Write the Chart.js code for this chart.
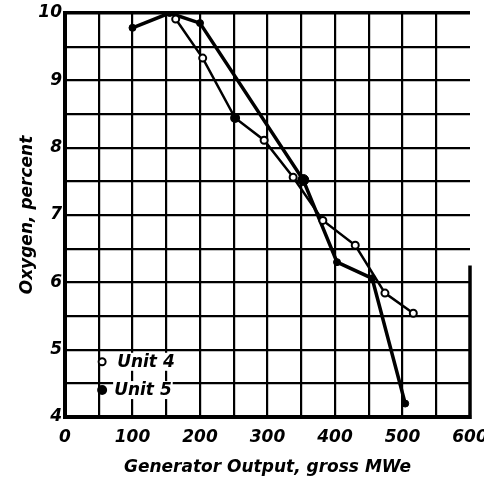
<!DOCTYPE html>
<html>
<head>
<meta charset="utf-8">
<script src="https://cdn.jsdelivr.net/npm/chart.js@4"></script>
<style>
html,body{margin:0;padding:0;background:#fff;}
canvas{display:block;}
</style>
</head>
<body>
<canvas id="c" width="484" height="484"></canvas>
<script>
// ---- data ----
const unit4X = [164, 204, 252, 295, 338, 382, 430, 474, 516];
const unit4Y = [9.91, 9.33, 8.44, 8.11, 7.56, 6.92, 6.55, 5.84, 5.54];
const unit5X = [100, 155, 200, 353, 403, 455, 504];
const unit5Y = [9.78, 10.0, 9.85, 7.52, 6.30, 6.06, 4.20];
const xTickLabels = [0, 100, 200, 300, 400, 500, 600];
const yTickLabels = [4, 5, 6, 7, 8, 9, 10];
const seriesNames = ['Unit 4', 'Unit 5'];
const xTitle = 'Generator Output, gross MWe';
const yTitle = 'Oxygen, percent';

const FONT = {family: 'DejaVu Sans', size: 17, weight: 'bold', style: 'italic'};

const toPts = (xs, ys) => xs.map((x, i) => ({x: x, y: ys[i]}));

const extras = {
  id: 'extras',
  afterDatasetsDraw(chart) {
    const ctx = chart.ctx;
    const xs = chart.scales.x, ys = chart.scales.y;
    // partial right border at x = 600
    ctx.save();
    ctx.strokeStyle = '#000';
    ctx.lineWidth = 3.5;
    ctx.beginPath();
    const rx = xs.getPixelForValue(600);
    ctx.moveTo(rx, ys.getPixelForValue(6.25));
    ctx.lineTo(rx, ys.getPixelForValue(4) + 2);
    ctx.stroke();
    // legend inside plot
    const lx = xs.getPixelForValue(55);
    const rows = [ys.getPixelForValue(4.82), ys.getPixelForValue(4.4)];
    ctx.font = 'italic bold 17px "DejaVu Sans"';
    ctx.textBaseline = 'middle';
    seriesNames.forEach((name, i) => {
      const y = rows[i];
      const tx = lx + (i === 0 ? 15 : 12);
      const w = ctx.measureText(name).width;
      ctx.fillStyle = '#fff';
      ctx.fillRect(tx - 1, y - 9, w + 2, 18);
      ctx.fillStyle = '#000';
      ctx.fillText(name, tx, y + 1);
      ctx.beginPath();
      if (i === 0) {
        ctx.arc(lx, y, 3.5, 0, Math.PI * 2);
        ctx.fillStyle = '#fff';
        ctx.fill();
        ctx.lineWidth = 2;
        ctx.stroke();
      } else {
        ctx.arc(lx, y, 5, 0, Math.PI * 2);
        ctx.fillStyle = '#000';
        ctx.fill();
      }
    });
    ctx.restore();
  }
};

new Chart(document.getElementById('c'), {
  type: 'scatter',
  data: {
    datasets: [
      {
        label: seriesNames[0],
        data: toPts(unit4X, unit4Y),
        showLine: true,
        borderColor: '#000',
        borderWidth: 2.5,
        pointRadius: unit4X.map((v, i) => i === 2 ? 4 : 3.5),
        pointBorderWidth: 2,
        pointBorderColor: '#000',
        pointBackgroundColor: unit4X.map((v, i) => i === 2 ? '#000' : '#fff'),
        tension: 0
      },
      {
        label: seriesNames[1],
        data: toPts(unit5X, unit5Y),
        showLine: true,
        borderColor: '#000',
        borderWidth: 3.5,
        pointRadius: unit5X.map((v, i) => i === 3 ? 5.5 : 3.5),
        pointBorderWidth: 1,
        pointBorderColor: '#000',
        pointBackgroundColor: '#000',
        tension: 0
      }
    ]
  },
  plugins: [extras],
  options: {
    responsive: false,
    animation: false,
    devicePixelRatio: 1,
    layout: {padding: {left: 0, right: 14, top: 13, bottom: 0}},
    plugins: {legend: {display: false}, tooltip: {enabled: false}},
    scales: {
      x: {
        type: 'linear', min: 0, max: 600,
        border: {display: true, color: '#000', width: 4},
        grid: {
          color: c => (c.tick && c.tick.value === 600) ? 'rgba(0,0,0,0)' : '#000',
          lineWidth: 2.2,
          drawTicks: false
        },
        ticks: {
          stepSize: 50, autoSkip: false, maxRotation: 0, padding: 10,
          color: '#000', font: FONT,
          callback: v => xTickLabels.includes(v) ? String(v) : ''
        },
        title: {display: true, text: xTitle, color: '#000', font: FONT, padding: {top: 0, bottom: 6}},
        afterFit: s => { s.height = 67; s.paddingLeft = 0; s.paddingRight = 0; }
      },
      y: {
        type: 'linear', min: 4, max: 10,
        border: {display: true, color: '#000', width: 4},
        grid: {
          color: '#000',
          lineWidth: c => (c.tick && c.tick.value === 10) ? 3.5 : 2.2,
          drawTicks: false
        },
        ticks: {
          stepSize: 0.5, autoSkip: false, padding: 3,
          color: '#000', font: FONT,
          callback: v => yTickLabels.includes(v) ? String(v) : ''
        },
        title: {display: true, text: yTitle, color: '#000', font: FONT, padding: {top: 17, bottom: 0}},
        afterFit: s => { s.width = 65; s.paddingTop = 0; s.paddingBottom = 0; }
      }
    }
  }
});
</script>
</body>
</html>
